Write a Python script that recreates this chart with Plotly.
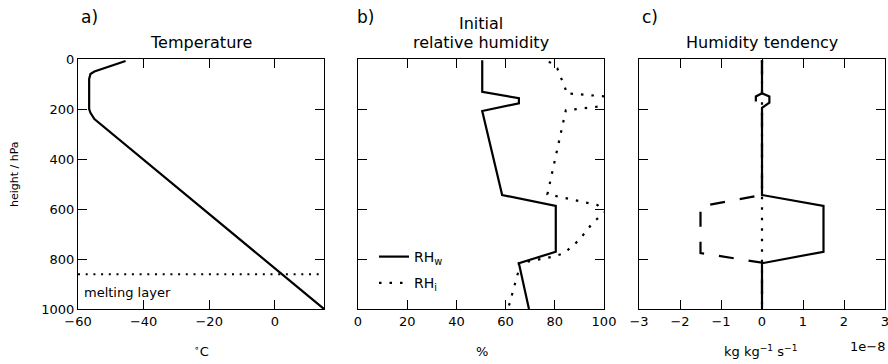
import plotly.graph_objects as go

# ---------------- data ----------------
# Panel a: temperature profile
temp_p = [8, 50, 60, 80, 200, 215, 240, 1000]          # hPa
temp_c = [-45.5, -55, -56.2, -56.6, -56.6, -56.2, -55, 15]  # degC
melting_p = 861                                        # hPa

# Panel b: initial relative humidity
rhw_p = [5, 131, 157, 177, 208, 544, 588, 771, 817, 1000]
rhw = [50.5, 50.5, 65.4, 65.4, 50.5, 58.6, 80.4, 80.4, 65.4, 69.5]
rhi_p = [10, 37, 124, 137, 157, 177, 205, 541, 584, 610, 657, 724, 777, 790, 817, 850, 1000]
rhi = [77.6, 81, 84.5, 84.5, 110, 110, 84.5, 77, 97.3, 100.5, 95.3, 89.9, 83.8, 79.6, 65.4, 65.2, 61]

# Panel c: humidity tendency (kg kg-1 s-1)
tend_solid_p = [5, 137, 150, 175, 195, 544, 588, 771, 817, 1000]
tend_solid = [0, 0, 0.18e-8, 0.18e-8, 0, 0, 1.5e-8, 1.5e-8, 0, 0]
tend_dashed_p = [5, 137, 150, 180, 192, 544, 590, 776, 815, 1000]
tend_dashed = [0, 0, -0.15e-8, -0.15e-8, 0, 0, -1.5e-8, -1.5e-8, 0, 0]
tend_dotted_p = [5, 1000]
tend_dotted = [0, 0]

# axis ticks
p_ticks = [0, 200, 400, 600, 800, 1000]
temp_ticks = [-60, -40, -20, 0]
rh_ticks = [0, 20, 40, 60, 80, 100]
tend_ticks = [-3e-8, -2e-8, -1e-8, 0, 1e-8, 2e-8, 3e-8]
tend_ticktext = ["\u22123", "\u22122", "\u22121", "0", "1", "2", "3"]

# ---------------- layout helpers ----------------
W, H = 888, 364
FONT = "DejaVu Sans"


def px(x):
    return x / W


def py(y):
    return 1 - y / H


LW = 2.2
DOT = "2px,5.7px"
DOT_B = "2.5px,8px"
DASH = "15px,15px"

fig = go.Figure()

# panel a
fig.add_trace(go.Scatter(x=temp_c, y=temp_p, mode="lines", xaxis="x", yaxis="y",
                         line=dict(color="black", width=LW), showlegend=False))
fig.add_shape(type="line", xref="x domain", x0=0, x1=1, yref="y", y0=melting_p, y1=melting_p,
              line=dict(color="black", width=2, dash=DOT))

# panel b
fig.add_trace(go.Scatter(x=rhw, y=rhw_p, mode="lines", xaxis="x2", yaxis="y2",
                         name="RH<sub>w</sub>", legendgroup="w",
                         line=dict(color="black", width=LW)))
fig.add_trace(go.Scatter(x=rhi, y=rhi_p, mode="lines", xaxis="x2", yaxis="y2",
                         name="RH<sub>i</sub>", legendgroup="i",
                         line=dict(color="black", width=LW, dash=DOT_B)))

# panel c
fig.add_trace(go.Scatter(x=tend_dotted, y=tend_dotted_p, mode="lines", xaxis="x3", yaxis="y3",
                         line=dict(color="black", width=LW, dash=DOT_B), showlegend=False))
fig.add_trace(go.Scatter(x=tend_dashed, y=tend_dashed_p, mode="lines", xaxis="x3", yaxis="y3",
                         line=dict(color="black", width=LW, dash=DASH), showlegend=False))
fig.add_trace(go.Scatter(x=tend_solid, y=tend_solid_p, mode="lines", xaxis="x3", yaxis="y3",
                         line=dict(color="black", width=LW), showlegend=False))

common = dict(showline=True, linecolor="black", linewidth=1.3, mirror="ticks",
              ticks="inside", ticklen=9, tickwidth=1, tickcolor="black",
              showgrid=False, zeroline=False, automargin=False,
              ticklabeloverflow="allow",
              tickfont=dict(family=FONT, size=13, color="black"))

ydom = [py(309), py(59)]
xdoms = [[px(78), px(324)], [px(358), px(604)], [px(639), px(885)]]

fig.update_layout(
    width=W, height=H,
    margin=dict(l=0, r=0, t=0, b=0, pad=0, autoexpand=False),
    plot_bgcolor="white", paper_bgcolor="white",
    font=dict(family=FONT, size=13, color="black"),
    hovermode=False,
    xaxis=dict(domain=xdoms[0], range=[-60, 15], tickvals=temp_ticks, anchor="y", **common),
    yaxis=dict(domain=ydom, range=[1000, 0], tickvals=p_ticks, anchor="x", **common),
    xaxis2=dict(domain=xdoms[1], range=[0, 100], tickvals=rh_ticks, anchor="y2", **common),
    yaxis2=dict(domain=ydom, range=[1000, 0], tickvals=p_ticks, anchor="x2",
                showticklabels=False, **common),
    xaxis3=dict(domain=xdoms[2], range=[-3e-8, 3e-8], tickvals=tend_ticks,
                ticktext=tend_ticktext, anchor="y3", **common),
    yaxis3=dict(domain=ydom, range=[1000, 0], tickvals=p_ticks, anchor="x3",
                showticklabels=False, **common),
    legend=dict(x=px(374), y=py(241), xanchor="left", yanchor="top",
                font=dict(family=FONT, size=14, color="black"),
                bgcolor="rgba(0,0,0,0)", tracegroupgap=5),
)


def ann(text, x, y, size=13, xanchor="center", yanchor="middle", angle=0):
    fig.add_annotation(text=text, x=px(x), y=py(y), xref="paper", yref="paper",
                       showarrow=False, xanchor=xanchor, yanchor=yanchor, textangle=angle,
                       font=dict(family=FONT, size=size, color="black"))


# panel letters
ann("a)", 79, 17, size=17, xanchor="left")
ann("b)", 355, 17, size=17, xanchor="left")
ann("c)", 640, 17, size=17, xanchor="left")
# titles
ann("Temperature", 201, 42, size=16)
ann("Initial", 481, 23, size=16)
ann("relative humidity", 481, 42, size=16)
ann("Humidity tendency", 762, 42, size=16)
# axis titles
ann("height / hPa", 14, 174, size=11, angle=-90)
ann("<sup>\u2218</sup>C", 201, 351, size=13)
ann("%", 482, 351, size=13)
ann("kg kg<sup>\u22121</sup> s<sup>\u22121</sup>", 760, 351, size=13)
ann("1e\u22128", 887, 346, size=13, xanchor="right")
ann("melting layer", 82, 292, size=13, xanchor="left")

fig.write_html(
    "out.html",
    config={"displayModeBar": False},
    post_script="document.body.style.margin='0';document.body.style.overflow='hidden';",
)
